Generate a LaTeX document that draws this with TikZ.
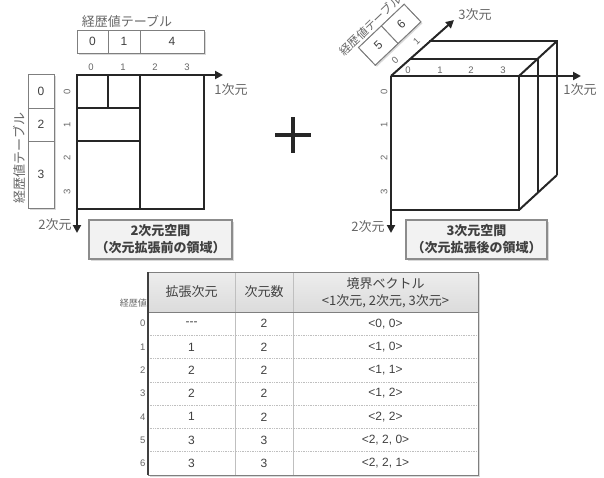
\documentclass[tikz,border=0pt]{standalone}
\usepackage{fontspec}
\setmainfont{Liberation Sans}
\newfontfamily\jp{Noto Sans CJK JP}
\usetikzlibrary{arrows.meta,shadows}
\definecolor{dk}{HTML}{262626}
\definecolor{labgray}{HTML}{666666}
\definecolor{txt}{HTML}{404040}
\definecolor{cellgray}{HTML}{7F7F7F}
\definecolor{capgray}{HTML}{8C8C8C}
\definecolor{capfill}{HTML}{F2F2F2}
\definecolor{sepgray}{HTML}{BFBFBF}
\begin{document}
\begin{tikzpicture}[x=1pt,y=-1pt,
  gridline/.style={line width=2pt, draw=dk},
  axisarrow/.style={line width=2pt, draw=dk, -{Triangle[length=8pt,width=8pt]}},
  cellbox/.style={draw=cellgray, line width=0.8pt, inner sep=0pt, font=\fontsize{12}{14}\selectfont, text=txt},
  tblbg/.style={draw=cellgray, line width=0.8pt, fill=white, inner sep=0pt, drop shadow={shadow xshift=1.5pt, shadow yshift=-1.5pt, opacity=0.3}},
  ticklbl/.style={font=\fontsize{9.5}{11}\selectfont, text=labgray, inner sep=0pt},
  lbl/.style={font=\jp\fontsize{13}{15}\selectfont, text=labgray, inner sep=0pt},
  capbox/.style={draw=capgray, line width=1.5pt, fill=capfill, drop shadow={shadow xshift=2pt, shadow yshift=-2pt, opacity=0.3}, align=center, font=\jp\bfseries\fontsize{13}{17}\selectfont, text=txt, inner sep=0pt, minimum height=39pt},
  hdr/.style={font=\jp\fontsize{13}{17}\selectfont, text=txt, inner sep=0pt, align=center},
  valtxt/.style={font=\fontsize{12}{14}\selectfont, text=txt, inner sep=0pt},
  rown/.style={font=\fontsize{9.5}{11}\selectfont, text=labgray, inner sep=0pt, anchor=east}
]
\useasboundingbox (0,0) rectangle (604,477);

% ---------------- 2D space ----------------
\node[lbl] (tl2) at (127,21) {経歴値テーブル};
\node[tblbg, minimum width=127pt, minimum height=23pt] (tt) at (140.5,41.5) {};
\node[cellbox, minimum width=31pt, minimum height=23pt] (t0) at (92.5,41.5) {0};
\node[cellbox, minimum width=32pt, minimum height=23pt] (t1) at (124,41.5) {1};
\node[cellbox, minimum width=64pt, minimum height=23pt] (t4) at (172,41.5) {4};

\node[lbl, rotate=90] (vl2) at (19,158) {経歴値テーブル};
\node[tblbg, minimum width=26pt, minimum height=134pt] (lt) at (41,141) {};
\node[cellbox, minimum width=26pt, minimum height=34pt] (l0) at (41,91) {0};
\node[cellbox, minimum width=26pt, minimum height=33pt] (l2) at (41,124.5) {2};
\node[cellbox, minimum width=26pt, minimum height=67pt] (l3) at (41,174.5) {3};

\foreach \k/\xx in {0/91,1/123,2/155,3/187} \node[ticklbl] (c2\k) at (\xx,67) {\k};
\foreach \k/\yy in {0/92,1/125,2/158,3/192} \node[ticklbl, rotate=90] (r2\k) at (67,\yy) {\k};

\draw[gridline] (77,75) rectangle (204,209);
\draw[gridline] (108,75) -- (108,108);
\draw[gridline] (140,75) -- (140,209);
\draw[gridline] (77,108) -- (140,108);
\draw[gridline] (77,141) -- (140,141);
\coordinate (o2) at (77,75);
\coordinate (x2) at (223,75);
\coordinate (y2) at (77,233);
\draw[axisarrow] (o2) -- (x2);
\draw[axisarrow] (o2) -- (y2);
\node[lbl] (x2l) at (231,90) {1次元};
\node[lbl] (y2l) at (55,225) {2次元};
\node[capbox, minimum width=143pt] (cap2) at (160.5,239.5) {2次元空間\\（次元拡張前の領域）};

% ---------------- plus ----------------
\draw[line width=4pt, dk] (275,135) -- (311,135) (293,117) -- (293,153);

% ---------------- 3D space ----------------
\node[tblbg, rotate=43.5, minimum width=63pt, minimum height=24.4pt] (rt) at (389.7,34.7) {};
\node[cellbox, rotate=43.5, minimum width=31.5pt, minimum height=24.4pt] (r5) at (378.3,45.55) {5};
\node[cellbox, rotate=43.5, minimum width=31.5pt, minimum height=24.4pt] (r6) at (401.1,23.85) {6};
\node[lbl, rotate=43.5, font=\jp\fontsize{11.5}{13}\selectfont] (tl3) at (370.5,25.3) {経歴値テーブル};

\coordinate (o3) at (391,76);
\coordinate (x3) at (581,76);
\coordinate (y3) at (391,233);
\coordinate (z3) at (454,20);
\draw[gridline] (519,76) -- (519,210) -- (391,210);
\draw[gridline] (410,58.5) -- (538,58.5) -- (538,192.5);
\draw[gridline] (429,41) -- (557,41) -- (557,175);
\draw[gridline] (519,76) -- (557,41);
\draw[gridline] (519,210) -- (557,175);
\draw[axisarrow] (o3) -- (x3);
\draw[axisarrow] (o3) -- (y3);
\draw[axisarrow] (o3) -- (z3);

\foreach \k/\xx in {0/408,1/440,2/471,3/503} \node[ticklbl] (c3\k) at (\xx,70) {\k};
\foreach \k/\yy in {0/92,1/125,2/158,3/192} \node[ticklbl, rotate=90] (r3\k) at (384,\yy) {\k};
\node[ticklbl, rotate=43.5] (d30) at (395,60) {0};
\node[ticklbl, rotate=43.5] (d31) at (416.5,41.5) {1};

\node[lbl] (x3l) at (580,90) {1次元};
\node[lbl] (y3l) at (368,227) {2次元};
\node[lbl] (z3l) at (475,15) {3次元};
\node[capbox, minimum width=141pt] (cap3) at (476.5,239.5) {3次元空間\\（次元拡張後の領域）};

% ---------------- table ----------------
\node[draw=cellgray, line width=0.8pt, fill=white, inner sep=0pt, minimum width=330pt, minimum height=203pt,
      drop shadow={shadow xshift=2pt, shadow yshift=-2pt, opacity=0.3}] (tbl) at (313,373.5) {};
\shade[top color=white!93!black, bottom color=white!86!black] (148,272) rectangle (478,312);
\draw[sepgray, line width=0.6pt] (235,272) -- (235,475) (293,272) -- (293,475);
\draw[cellgray, line width=0.8pt] (148,312) -- (478,312);
\foreach \k in {1,...,6} \draw[sepgray, line width=0.7pt, densely dotted] (148,312+23.3*\k) -- (478,312+23.3*\k);
\draw[cellgray, line width=0.8pt] (148,272) rectangle (478,475);
\draw[txt, line width=1.3pt] (148,272) -- (148,475);

\node[hdr] (h1) at (191.5,292) {拡張次元};
\node[hdr] (h2) at (264,292) {次元数};
\node[hdr] (h3) at (385.5,293) {境界ベクトル\\<1次元, 2次元, 3次元>};
\node[rown, font=\jp\fontsize{9}{11}\selectfont] (rh) at (147,303) {経歴値};

\foreach \i/\a/\b/\c in {0/{-{}-{}-}/2/{<0, 0>},1/1/2/{<1, 0>},2/2/2/{<1, 1>},3/2/2/{<1, 2>},4/1/2/{<2, 2>},5/3/3/{<2, 2, 0>},6/3/3/{<2, 2, 1>}}{
  \node[rown] (n\i) at (145.5,323.65+23.3*\i) {\i};
  \node[valtxt] (a\i) at (191.5,323.65+23.3*\i) {\a};
  \node[valtxt] (b\i) at (264,323.65+23.3*\i) {\b};
  \node[valtxt] (v\i) at (385.5,323.65+23.3*\i) {\c};
}
\end{tikzpicture}
\end{document}
